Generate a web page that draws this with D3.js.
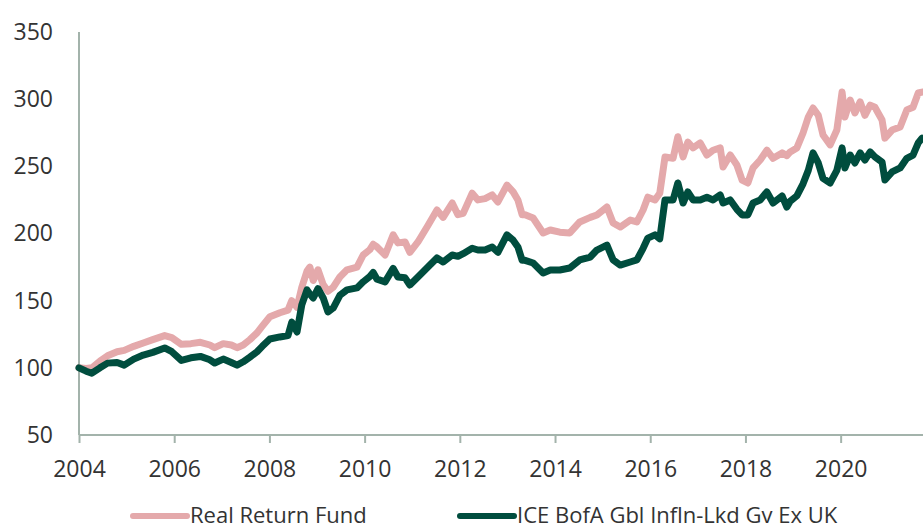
<!DOCTYPE html>
<html>
<head>
<meta charset="utf-8">
<script src="https://cdn.jsdelivr.net/npm/d3@7"></script>
<style>
  body { margin: 0; background: #fff; }
  svg { display: block; }
  svg text { font-family: "Open Sans", sans-serif; fill: #333; }
  .axis text { font-size: 23px; }
  .axis path, .axis line { stroke: #a3b3ab; stroke-width: 2px; }
  .legend text { font-size: 22px; }
</style>
</head>
<body>
<svg width="923" height="530"></svg>
<script>
/* globals d3 */

// decimal years shared by both series
var dates = [
  2004.00, 2004.15, 2004.27, 2004.44, 2004.60, 2004.80, 2004.95, 2005.15, 2005.35, 2005.55,
  2005.80, 2005.95, 2006.15, 2006.35, 2006.55, 2006.75, 2006.85, 2007.03, 2007.20, 2007.32,
  2007.45, 2007.59, 2007.74, 2007.85, 2008.01, 2008.22, 2008.39, 2008.47, 2008.58, 2008.68,
  2008.79, 2008.85, 2008.92, 2009.02, 2009.13, 2009.23, 2009.34, 2009.48, 2009.63, 2009.84,
  2009.97, 2010.11, 2010.18, 2010.26, 2010.43, 2010.60, 2010.70, 2010.85, 2010.95, 2011.12,
  2011.33, 2011.52, 2011.65, 2011.84, 2011.96, 2012.07, 2012.26, 2012.38, 2012.53, 2012.68,
  2012.80, 2012.99, 2013.12, 2013.22, 2013.31, 2013.37, 2013.54, 2013.75, 2013.90, 2014.10,
  2014.31, 2014.52, 2014.74, 2014.88, 2015.09, 2015.22, 2015.37, 2015.58, 2015.72, 2015.85,
  2015.95, 2016.10, 2016.20, 2016.31, 2016.48, 2016.58, 2016.69, 2016.79, 2016.90, 2017.05,
  2017.19, 2017.32, 2017.47, 2017.53, 2017.68, 2017.82, 2017.93, 2018.05, 2018.16, 2018.31,
  2018.45, 2018.58, 2018.77, 2018.87, 2018.94, 2019.08, 2019.21, 2019.32, 2019.42, 2019.53,
  2019.63, 2019.78, 2019.92, 2020.03, 2020.09, 2020.20, 2020.30, 2020.41, 2020.51, 2020.62,
  2020.72, 2020.87, 2020.93, 2021.08, 2021.25, 2021.39, 2021.52, 2021.63, 2021.71
];

var fund = [
  100, 99.5, 100, 105, 109, 112, 113, 116, 118.5, 121,
  124, 122.5, 117.5, 118, 119, 117, 115, 118, 117, 115,
  117, 121, 126, 131, 138, 141, 143, 150, 145, 160,
  172, 175, 165, 173, 162, 157, 160, 167.6, 173, 175,
  184, 188, 192, 190, 184, 199, 193, 193.7, 186, 193.7,
  206, 217.5, 212, 222.7, 214, 215, 230, 225, 226, 228.7,
  223.5, 236, 231, 225, 214, 214, 211.5, 200.4, 202.6, 201,
  200.4, 208.6, 212, 213.8, 219.7, 207.8, 204.8, 210, 208.6, 217.5,
  227, 225, 230, 257, 256, 272, 257, 268, 263.7, 267.4,
  258.4, 262, 263.7, 249.5, 258.4, 251, 239.8, 237.6, 248.8, 254.7,
  262, 256, 260, 258, 260.7, 263.7, 274.8, 286.7, 293.4, 288,
  273.3, 266, 277, 305.3, 286.7, 299.4, 289.7, 298, 288, 295.6,
  294, 284.5, 271, 277, 279.3, 292, 294, 304.6, 305.3
];

var bench = [
  100, 97.5, 96, 100, 103.5, 104, 102, 106.5, 109.5, 111.5,
  114.8, 112, 105.5, 107.5, 108.5, 106, 103.6, 106.5, 104, 102,
  104.5, 108, 112, 116, 121.5, 123, 124, 134, 126.7, 146.8,
  158, 155, 152, 159, 152, 141.6, 144.5, 154, 158, 159.5,
  164, 168, 171, 166, 164, 174, 167.6, 167, 161.7, 167.6,
  175, 181.8, 178.8, 184, 183, 185, 189, 187.7, 187.7, 190,
  186, 199, 195, 190, 180, 180, 178, 170.6, 172.8, 172.8,
  174.3, 180.3, 182.5, 187.7, 191.4, 180.3, 176.5, 178.8, 180.3, 189,
  196.6, 199, 196, 225, 225, 237.6, 222.7, 231, 225, 225,
  227, 225, 228.7, 222.7, 225, 218, 213.8, 213.8, 222.7, 225,
  231, 222.7, 228, 219.7, 224, 228, 237, 247, 260, 252.5,
  241, 237.6, 247, 263.7, 248.8, 258.4, 252.5, 260, 254.7, 260.7,
  257, 253.2, 239.8, 245.8, 248.8, 256, 258.4, 267.4, 271
];

var seriesNames = ["Real Return Fund", "ICE BofA Gbl Infln-Lkd Gv Ex UK"];
var seriesColors = ["#e4a9ab", "#004d3e"];
var yTicks = [50, 100, 150, 200, 250, 300, 350];
var xTicks = [2004, 2006, 2008, 2010, 2012, 2014, 2016, 2018, 2020];

var svg = d3.select("svg"),
  margin = {top: 32, right: 0, bottom: 95, left: 79},
  width = +svg.attr("width") - margin.left - margin.right,
  height = +svg.attr("height") - margin.top - margin.bottom;

var x = d3.scaleLinear().domain([2004, 2021.73]).range([0, width]),
  y = d3.scaleLinear().domain([50, 350]).range([height, 0]);

var g = svg.append("g")
  .attr("transform", "translate(" + margin.left + "," + margin.top + ")");

// y axis: line plus labels, no tick marks
g.append("g")
  .attr("class", "axis axis--y")
  .call(d3.axisLeft(y).tickValues(yTicks).tickSize(0).tickPadding(26).tickFormat(d3.format("d")))
  .call(function(a) { a.select(".domain").attr("d", "M0,0V" + height); });

// x axis with downward ticks
g.append("g")
  .attr("class", "axis axis--x")
  .attr("transform", "translate(0," + height + ")")
  .call(d3.axisBottom(x).tickValues(xTicks).tickSize(8).tickPadding(18).tickFormat(d3.format("d")))
  .call(function(a) { a.select(".domain").attr("d", "M0,0H" + width); });

var line = d3.line()
  .x(function(d) { return x(d[0]); })
  .y(function(d) { return y(d[1]); });

[fund, bench].forEach(function(vals, i) {
  g.append("path")
    .datum(dates.map(function(t, j) { return [t, vals[j]]; }))
    .attr("fill", "none")
    .attr("stroke", seriesColors[i])
    .attr("stroke-width", 7)
    .attr("stroke-linejoin", "round")
    .attr("stroke-linecap", "round")
    .attr("d", line);
});

// legend
var legend = svg.append("g").attr("class", "legend");
var legendX = [133, 460];
seriesNames.forEach(function(name, i) {
  var lg = legend.append("g").attr("transform", "translate(" + legendX[i] + ",516)");
  lg.append("line")
    .attr("x1", 0).attr("x2", 54)
    .attr("stroke", seriesColors[i])
    .attr("stroke-width", 6)
    .attr("stroke-linecap", "round");
  lg.append("text")
    .attr("x", 57)
    .attr("y", 7)
    .text(name);
});
</script>
</body>
</html>
